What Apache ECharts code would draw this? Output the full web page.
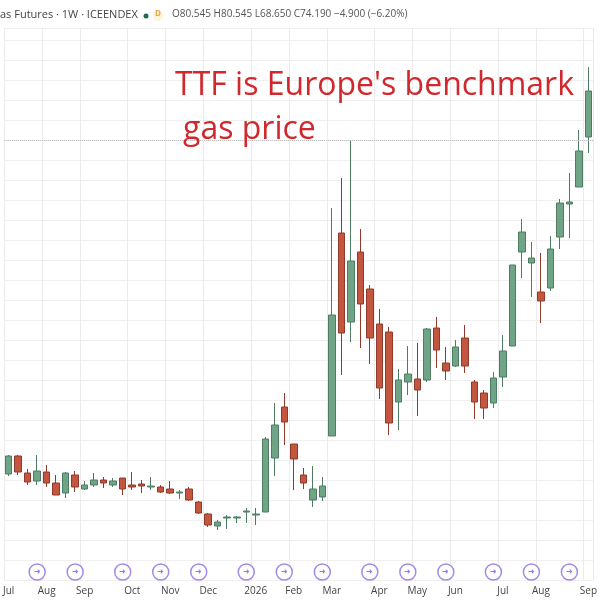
<!DOCTYPE html>
<html>
<head>
<meta charset="utf-8">
<script src="https://cdn.jsdelivr.net/npm/echarts@6/dist/echarts.min.js"></script>
<style>html,body{margin:0;padding:0;background:#fff}#main{width:600px;height:600px}</style>
</head>
<body>
<div id="main"></div>
<script>
// weekly TTF candles (axis units, no labels shown)
const weeks = []
for (let i = 0; i < 62; i++) weeks.push('w' + i)
const monthTicks = {0:'Jul',4:'Aug',8:'Sep',13:'Oct',17:'Nov',21:'Dec',26:'2026',30:'Feb',34:'Mar',39:'Apr',43:'May',47:'Jun',52:'Jul',56:'Aug',61:'Sep'}
const opens  = [126,144,127,119,128,117,107,125,111,115,120,115,122,115,116,113,113,111,107,111,98,86,74,82,82,88,85,88,142,193,156,125,100,103,164,367,278,348,311,276,268,198,218,221,220,272,237,234,262,218,207,197,223,254,348,337,308,312,363,396,413,463]
const closes = [144,128,118,129,117,105,127,113,115,120,117,119,111,113,114,114,108,107,108,100,87,75,78,83,83,89,86,161,175,178,141,117,111,114,285,267,339,296,262,212,177,220,226,210,271,250,229,253,234,198,192,222,249,335,368,342,299,351,397,398,449,509]
const lows   = [124,125,115,115,113,105,102,108,110,113,112,113,105,110,107,110,107,106,101,99,86,73,70,71,77,77,75,88,124,155,110,111,93,99,164,225,258,252,236,201,165,170,205,184,218,232,220,233,227,181,181,192,213,254,322,303,277,309,351,362,413,447]
const highs  = [145,145,131,145,135,125,128,129,119,127,123,122,122,128,120,123,115,119,110,113,99,87,80,85,84,92,92,163,197,207,156,132,134,123,392,422,460,371,315,291,273,231,254,257,272,283,253,260,275,220,210,228,265,335,381,358,347,364,401,427,470,533]
const iconWeeks = [3,7,12,16,20,25,29,33,38,42,46,51,55,59]
const lastPrice = 460

const candles = opens.map((o, i) => [o, closes[i], lows[i], highs[i]])
const icons = iconWeeks.map(i => [weeks[i], 28])

const chart = echarts.init(document.getElementById('main'))
chart.setOption({
  animation: false,
  grid: { left: 3, right: 4, top: 28, bottom: 20 },
  xAxis: {
    type: 'category',
    data: weeks,
    boundaryGap: true,
    axisLine: { show: false },
    axisTick: { show: false, alignWithLabel: true },
    axisLabel: {
      interval: 0, margin: 6, color: '#444', fontSize: 10, fontFamily: 'Open Sans',
      formatter: (v, i) => monthTicks[i] || ''
    },
    splitLine: {
      show: true,
      interval: (i) => monthTicks[i] !== undefined,
      lineStyle: { color: '#ebebeb' }
    }
  },
  yAxis: {
    type: 'value', min: 20, max: 572, interval: 20,
    axisLabel: { show: false }, axisLine: { show: false }, axisTick: { show: false },
    splitLine: { lineStyle: { color: '#f0f0f0' } }
  },
  series: [{
    type: 'candlestick',
    data: candles,
    barWidth: 7,
    itemStyle: {
      color: '#6fa487', color0: '#c4553e',
      borderColor: '#4d7c62', borderColor0: '#8f3a2a',
      borderWidth: 1
    },
    markLine: {
      symbol: 'none', silent: true,
      label: { show: false },
      lineStyle: { color: '#bbb', type: 'dotted', width: 1 },
      data: [{ yAxis: lastPrice }]
    }
  }, {
    type: 'scatter',
    data: icons,
    symbol: 'circle', symbolSize: 16,
    itemStyle: { color: '#fff', borderColor: '#8d6be0', borderWidth: 1.5 },
    label: { show: true, position: 'inside', formatter: '➜', color: '#7a55d6', fontSize: 8 },
    z: 5
  }],
  graphic: [
    { type: 'rect', shape: { x: 0, y: 0, width: 600, height: 27 }, style: { fill: '#fff' }, z: 10 },
    { type: 'text', left: 0, top: 9, z: 11,
      style: { text: 'as Futures · 1W · ICEENDEX', fill: '#444', font: '11px "Open Sans"' } },
    { type: 'circle', shape: { cx: 146, cy: 16, r: 2.5 }, style: { fill: '#1e6b52' }, z: 11 },
    { type: 'circle', shape: { cx: 158, cy: 16, r: 5 }, style: { fill: '#fdf2dc' }, z: 11 },
    { type: 'text', left: 155, top: 10, z: 12, style: { text: 'D', fill: '#e6a641', font: 'bold 8px "Open Sans"' } },
    { type: 'text', left: 172, top: 9, z: 11,
      style: { text: 'O80.545 H80.545 L68.650 C74.190 −4.900 (−6.20%)', fill: '#555', font: '10px "Open Sans"' } },
    { type: 'text', left: 175, top: 70, z: 11,
      style: { text: "TTF is Europe's benchmark", fill: '#d0282c', font: '32px "Open Sans"' } },
    { type: 'text', left: 183, top: 114, z: 11,
      style: { text: 'gas price', fill: '#d0282c', font: '32px "Open Sans"' } }
  ]
})
</script>
</body>
</html>
